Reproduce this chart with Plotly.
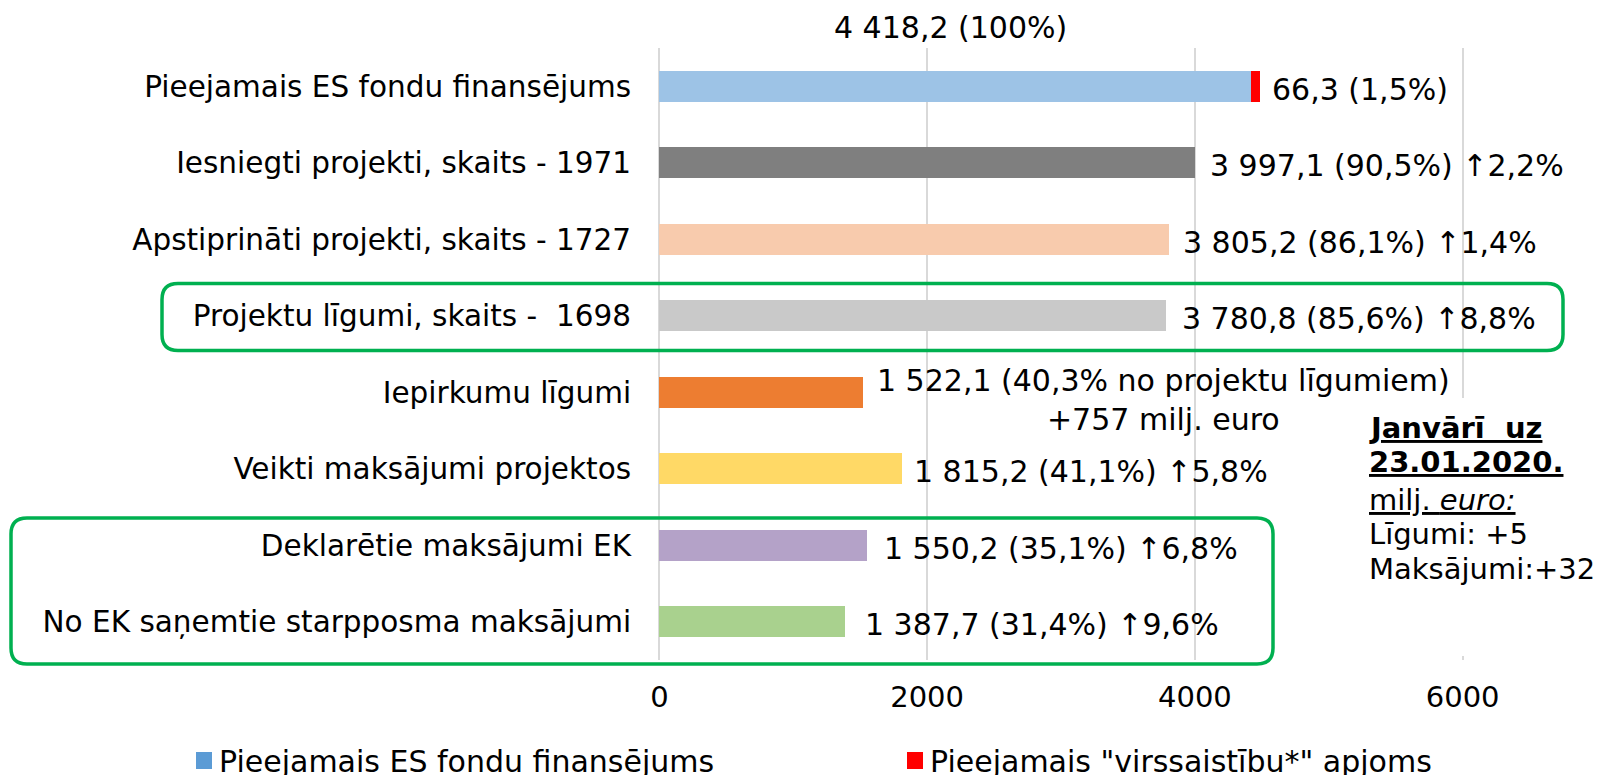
import plotly.graph_objects as go

# ---------------- data ----------------
categories = [
    "Pieejamais ES fondu finansējums",
    "Iesniegti projekti, skaits - 1971",
    "Apstiprināti projekti, skaits - 1727",
    "Projektu līgumi, skaits -\u00a0 1698",
    "Iepirkumu līgumi",
    "Veikti maksājumi projektos",
    "Deklarētie maksājumi EK",
    "No EK saņemtie starpposma maksājumi",
]
values = [4418.2, 3997.1, 3805.2, 3780.8, 1522.1, 1815.2, 1550.2, 1387.7]
over_commitment = [66.3]          # red stacked part on first bar
value_labels = [
    "66,3 (1,5%)",
    "3 997,1 (90,5%) ↑2,2%",
    "3 805,2 (86,1%) ↑1,4%",
    "3 780,8 (85,6%) ↑8,8%",
    "1 522,1 (40,3% no projektu līgumiem)<br>+757 milj. euro",
    "1 815,2 (41,1%) ↑5,8%",
    "1 550,2 (35,1%) ↑6,8%",
    "1 387,7 (31,4%) ↑9,6%",
]
total_label = "4 418,2 (100%)"
x_tickvals = [0, 2000, 4000, 6000]
x_ticktext = ["0", "2000", "4000", "6000"]
legend_names = ["Pieejamais ES fondu finansējums", "Pieejamais \"virssaistību*\" apjoms"]
note_lines = [
    "<b><u>Janvārī\u00a0 uz</u></b>",
    "<b><u>23.01.2020.</u></b>",
    "<u>milj. <i>euro:</i></u>",
    "Līgumi: +5",
    "Maksājumi:+32",
]

# ---------------- styles ----------------
bar_colors = ["#9DC3E6", "#7F7F7F", "#F8CBAD", "#C9C9C9",
              "#ED7D31", "#FFD966", "#B4A2C8", "#A9D18E"]
red = "#FF0000"
legend_colors = ["#5B9BD5", "#FF0000"]
green = "#00B050"
FONT = "DejaVu Sans"

OFF = 8                      # page body margin of the browser
W, H = 1604 - OFF, 775 - OFF
L, R, T, B = 648, 138, 40, 115
PW, PH = W - L - R, H - T - B


def px(x):                   # reference-screen x -> paper
    return (x - OFF - L) / PW


def py(y):                   # reference-screen y -> paper
    return (H - B - (y - OFF)) / PH


fig = go.Figure()
fig.add_trace(go.Bar(
    y=categories, x=values, orientation="h",
    marker=dict(color=bar_colors, line=dict(width=0)),
    width=0.405, hoverinfo="skip", showlegend=False,
))
fig.add_trace(go.Bar(
    y=categories[:1], x=over_commitment, orientation="h",
    marker=dict(color=red, line=dict(width=0)),
    width=0.405, hoverinfo="skip", showlegend=False,
))

annotations = []
gaps = [14, 17, 16, 18, 16, 14, 19, 22]
for i, (cat, v, lab) in enumerate(zip(categories, values, value_labels)):
    xv = v + (over_commitment[0] if i == 0 else 0)
    annotations.append(dict(
        x=xv, y=cat, xref="x", yref="y", text=lab, showarrow=False,
        xanchor="left", yanchor="middle", xshift=gaps[i] - 4,
        yshift=-8 if i == 4 else -3, align="center",
        font=dict(family=FONT, size=30, color="black"),
    ))

annotations.append(dict(
    x=px(950), y=py(28), xref="paper", yref="paper", text=total_label,
    showarrow=False, xanchor="center", yanchor="middle",
    font=dict(family=FONT, size=30, color="black"),
))

note_y = [428, 462, 500, 534, 569]
for txt, yy in zip(note_lines, note_y):
    annotations.append(dict(
        x=px(1367), y=py(yy), xref="paper", yref="paper", text=txt,
        showarrow=False, xanchor="left", yanchor="middle",
        font=dict(family=FONT, size=29, color="black"),
    ))

# legend (manual)
leg_sq_x = [196, 907]
for name, col, sx in zip(legend_names, legend_colors, leg_sq_x):
    annotations.append(dict(
        x=px(sx + 21), y=py(761), xref="paper", yref="paper", text=name,
        showarrow=False, xanchor="left", yanchor="middle",
        font=dict(family=FONT, size=30, color="black"),
    ))

shapes = []
for col, sx in zip(legend_colors, leg_sq_x):
    shapes.append(dict(type="rect", xref="paper", yref="paper",
                       x0=px(sx), x1=px(sx + 16), y0=py(769), y1=py(752),
                       fillcolor=col, line=dict(width=0)))

# white background of note box (hides gridline)
shapes.append(dict(type="rect", xref="paper", yref="paper",
                   x0=px(1345), x1=px(1610), y0=py(656), y1=py(398),
                   fillcolor="white", line=dict(width=0), layer="above"))


def rounded_rect(x0, y0, x1, y1, r):
    rx, ry = r / PW, r / PH
    X0, X1 = px(x0), px(x1)
    Y0, Y1 = py(y0), py(y1)  # Y0 top (larger), Y1 bottom
    return (f"M {X0+rx},{Y0} L {X1-rx},{Y0} Q {X1},{Y0} {X1},{Y0-ry} "
            f"L {X1},{Y1+ry} Q {X1},{Y1} {X1-rx},{Y1} "
            f"L {X0+rx},{Y1} Q {X0},{Y1} {X0},{Y1+ry} "
            f"L {X0},{Y0-ry} Q {X0},{Y0} {X0+rx},{Y0} Z")


for (x0, y0, x1, y1) in [(162, 283.5, 1563, 350.5), (11, 518, 1273, 664)]:
    shapes.append(dict(type="path", xref="paper", yref="paper",
                       path=rounded_rect(x0, y0, x1, y1, 16),
                       line=dict(color=green, width=3.5), layer="above"))

fig.update_layout(
    width=W, height=H,
    margin=dict(l=L, r=R, t=T, b=B, pad=0),
    plot_bgcolor="white", paper_bgcolor="white",
    barmode="stack", showlegend=False,
    font=dict(family=FONT, size=29, color="black"),
    annotations=annotations, shapes=shapes,
    xaxis=dict(range=[-25, 6025], tickvals=x_tickvals, ticktext=x_ticktext,
               showgrid=True, gridcolor="#D9D9D9", gridwidth=1.5,
               zeroline=False, showline=False, ticks="outside", ticklen=11,
               tickcolor="rgba(0,0,0,0)", tickfont=dict(family=FONT, size=29),
               fixedrange=True),
    yaxis=dict(categoryorder="array", categoryarray=categories,
               autorange="reversed", showgrid=False, zeroline=False,
               showline=False, ticks="outside", ticklen=18,
               tickcolor="rgba(0,0,0,0)", tickfont=dict(family=FONT, size=29.5),
               fixedrange=True),
)

fig.write_html("out.html")
